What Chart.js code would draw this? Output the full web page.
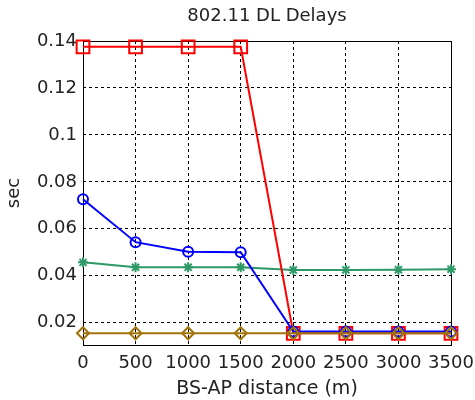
<!DOCTYPE html>
<html>
<head>
<meta charset="utf-8">
<script src="https://cdn.jsdelivr.net/npm/chart.js@4.4.0/dist/chart.umd.min.js"></script>
<style>
  html, body { margin: 0; padding: 0; background: #fff; }
  #wrap { width: 475px; height: 400px; }
</style>
</head>
<body>
<div id="wrap"><canvas id="chart" width="475" height="400"></canvas></div>
<script>
// valores
const distancias = [0, 500, 1000, 1500, 2000, 2500, 3000, 3500];
const serieQuadrado = [0.1375, 0.1375, 0.1375, 0.1375, 0.0155, 0.0155, 0.0155, 0.0155];
const serieCirculo = [0.0726, 0.0543, 0.0502, 0.0500, 0.0162, 0.0162, 0.0162, 0.0162];
const serieEstrela = [0.0457, 0.0436, 0.0436, 0.0436, 0.0424, 0.0425, 0.0426, 0.0428];
const serieLosango = [0.0155, 0.0155, 0.0155, 0.0155, 0.0155, 0.0155, 0.0155, 0.0155];
const ticksX = [0, 500, 1000, 1500, 2000, 2500, 3000, 3500];
const ticksY = [0.02, 0.04, 0.06, 0.08, 0.1, 0.12, 0.14];

const fonte = { family: '"DejaVu Sans", Arial, sans-serif', size: 18 };
const corTexto = '#222';

function pontos(ys) {
    return distancias.map((x, i) => ({ x: x, y: ys[i] }));
}

function serie(ys, cor, estilo, raio, ordem) {
    return {
        data: pontos(ys),
        borderColor: cor,
        backgroundColor: 'rgba(0,0,0,0)',
        borderWidth: 2,
        pointStyle: estilo,
        pointRadius: raio,
        pointBorderWidth: 2,
        pointBorderColor: cor,
        pointBackgroundColor: 'rgba(0,0,0,0)',
        tension: 0,
        clip: false,
        order: ordem
    };
}

// moldura preta em volta da área do gráfico
const moldura = {
    id: 'moldura',
    beforeDatasetsDraw(chart) {
        const a = chart.chartArea, ctx = chart.ctx;
        ctx.save();
        ctx.strokeStyle = '#000';
        ctx.lineWidth = 1;
        ctx.setLineDash([]);
        ctx.strokeRect(Math.round(a.left) + 0.5, Math.round(a.top) + 0.5,
            Math.round(a.right - a.left), Math.round(a.bottom - a.top));
        ctx.restore();
    }
};

new Chart(document.getElementById('chart').getContext('2d'), {
    type: 'line',
    data: {
        datasets: [
            serie(serieLosango, '#a0720a', 'rectRot', 6, 0),
            serie(serieCirculo, '#0000ff', 'circle', 5, 1),
            serie(serieQuadrado, '#ff0000', 'rect', 9, 2),
            serie(serieEstrela, '#2e9966', 'star', 5, 3)
        ]
    },
    options: {
        responsive: false,
        animation: false,
        layout: { padding: { left: 0, right: 24, top: 0, bottom: 0 } },
        plugins: {
            legend: { display: false },
            tooltip: { enabled: false },
            title: {
                display: true,
                fullSize: false,
                text: '802.11 DL Delays',
                color: corTexto,
                font: { family: fonte.family, size: 18, weight: 'normal' },
                padding: { top: 6, bottom: 13.4 }
            }
        },
        scales: {
            x: {
                type: 'linear',
                min: 0,
                max: 3500,
                afterBuildTicks: s => { s.ticks = ticksX.map(v => ({ value: v })); },
                afterFit: s => { s.height = 55; s.paddingLeft = 0; s.paddingRight = 0; },
                ticks: { color: corTexto, font: fonte, padding: 8, maxRotation: 0, callback: v => String(v) },
                grid: { color: '#000', lineWidth: 1, drawTicks: false },
                border: { display: false, dash: [3, 3] },
                title: { display: true, text: 'BS-AP distance (m)', color: corTexto, font: { family: fonte.family, size: 19 }, padding: { top: 4, bottom: 0 } }
            },
            y: {
                type: 'linear',
                min: 0.0105,
                max: 0.14,
                afterBuildTicks: s => { s.ticks = ticksY.map(v => ({ value: v })); },
                afterFit: s => { s.width = 83; s.paddingTop = 0; s.paddingBottom = 0; },
                ticks: { color: corTexto, font: fonte, padding: 6, callback: v => String(Math.round(v * 100) / 100) },
                grid: { color: '#000', lineWidth: 1, drawTicks: false },
                border: { display: false, dash: [3, 3] },
                title: { display: true, text: 'sec', color: corTexto, font: fonte, padding: { top: 4, bottom: 0 } }
            }
        }
    },
    plugins: [moldura]
});
</script>
</body>
</html>
